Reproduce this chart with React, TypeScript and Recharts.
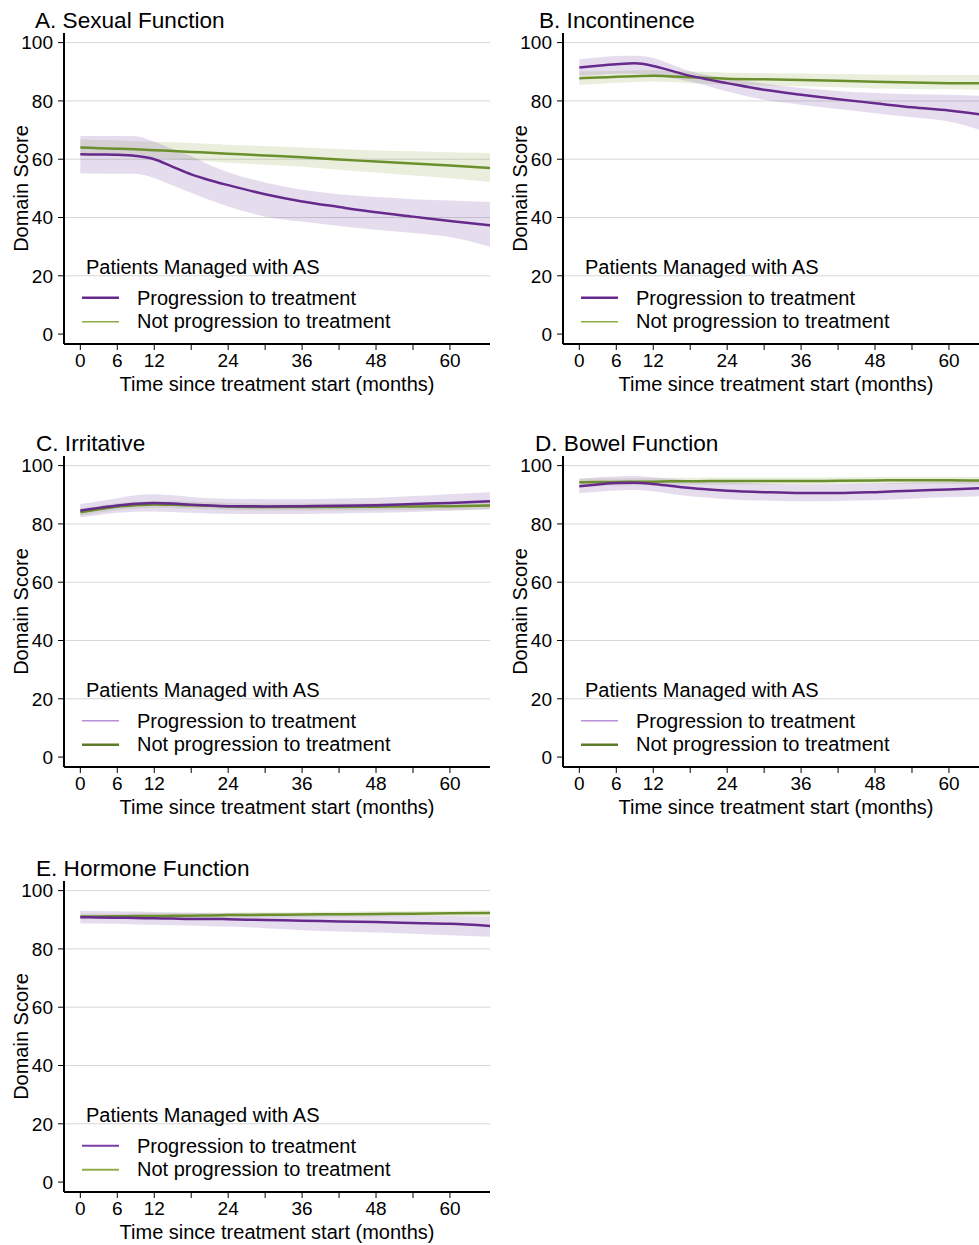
import React from 'react';
import { ComposedChart, Line, Area, XAxis, YAxis, CartesianGrid, Label } from 'recharts';

// Time points (months)
const months = [0, 3, 6, 9, 12, 15, 18, 21, 24, 30, 36, 42, 48, 54, 60, 66.5];
const xTicks = [0, 6, 12, 18, 24, 30, 36, 42, 48, 54, 60];
const xTickLabels = [0, 6, 12, 24, 36, 48, 60];
const yTicks = [0, 20, 40, 60, 80, 100];
const gridValues = [20, 40, 60, 80, 100];

const panelTitles = ['A. Sexual Function', 'B. Incontinence', 'C. Irritative', 'D. Bowel Function', 'E. Hormone Function'];
const legendTitle = 'Patients Managed with AS';
const seriesNames = ['Progression to treatment', 'Not progression to treatment'];

// A. Sexual Function
const sexualProg = [61.7, 61.6, 61.5, 61.1, 60.0, 57.4, 54.8, 52.8, 51.1, 48.0, 45.5, 43.6, 41.8, 40.3, 38.8, 37.3];
const sexualProgHi = [68.0, 68.0, 68.0, 67.9, 66.0, 63.5, 61.0, 58.0, 55.5, 52.0, 49.5, 48.0, 47.0, 46.3, 45.8, 45.3];
const sexualProgLo = [55.2, 55.1, 55.0, 55.0, 53.5, 51.0, 48.5, 46.0, 43.8, 40.3, 38.6, 37.1, 35.8, 34.7, 33.3, 30.0];
const sexualNot = [64.0, 63.8, 63.6, 63.4, 63.1, 62.8, 62.5, 62.2, 61.9, 61.3, 60.7, 59.9, 59.2, 58.5, 57.8, 57.0];
const sexualNotHi = [66.8, 66.6, 66.4, 66.2, 66.0, 65.8, 65.6, 65.3, 65.0, 64.5, 64.0, 63.5, 63.0, 62.7, 62.4, 62.1];
const sexualNotLo = [61.3, 61.1, 60.9, 60.7, 60.4, 60.0, 59.6, 59.2, 58.8, 58.1, 57.4, 56.4, 55.4, 54.4, 53.5, 52.2];

// B. Incontinence
const incontProg = [91.5, 92.1, 92.6, 92.9, 92.0, 90.3, 88.6, 87.3, 86.1, 83.8, 82.1, 80.6, 79.2, 77.8, 76.7, 75.0];
const incontProgHi = [94.3, 94.9, 95.4, 95.5, 94.7, 92.5, 90.2, 88.8, 87.8, 86.0, 84.4, 83.4, 82.7, 82.3, 82.1, 81.7];
const incontProgLo = [88.6, 89.0, 89.3, 89.3, 88.9, 87.8, 86.7, 85.0, 83.2, 80.4, 78.7, 77.2, 75.8, 74.4, 72.9, 69.0];
const incontNot = [87.8, 88.0, 88.3, 88.5, 88.6, 88.4, 88.1, 87.9, 87.6, 87.4, 87.2, 86.9, 86.6, 86.3, 86.1, 86.0];
const incontNotHi = [90.2, 90.2, 90.3, 90.4, 90.5, 90.3, 90.1, 89.9, 89.7, 89.5, 89.4, 89.2, 89.1, 89.0, 88.9, 88.9];
const incontNotLo = [85.5, 85.8, 86.2, 86.5, 86.7, 86.5, 86.1, 85.9, 85.6, 85.3, 85.0, 84.7, 84.3, 84.1, 84.0, 83.8];

// C. Irritative
const irritProg = [84.6, 85.5, 86.3, 86.9, 87.2, 87.0, 86.6, 86.3, 86.1, 86.0, 86.1, 86.2, 86.4, 86.8, 87.2, 87.8];
const irritProgHi = [86.8, 87.8, 88.8, 89.8, 90.2, 89.8, 89.2, 88.8, 88.6, 88.5, 88.5, 88.7, 89.0, 89.6, 90.2, 90.9];
const irritProgLo = [82.3, 83.1, 83.8, 84.2, 84.3, 84.1, 83.8, 83.6, 83.5, 83.4, 83.4, 83.6, 83.8, 84.1, 84.5, 85.0];
const irritNot = [84.0, 85.0, 85.9, 86.4, 86.7, 86.6, 86.4, 86.2, 86.0, 85.8, 85.8, 85.8, 85.9, 86.0, 86.1, 86.3];
const irritNotHi = [85.2, 86.2, 87.1, 87.6, 87.9, 87.8, 87.6, 87.4, 87.2, 87.0, 87.0, 87.0, 87.1, 87.2, 87.4, 87.6];
const irritNotLo = [82.8, 83.8, 84.7, 85.2, 85.5, 85.4, 85.2, 85.0, 84.8, 84.6, 84.6, 84.6, 84.7, 84.8, 84.8, 85.0];

// D. Bowel Function
const bowelProg = [92.9, 93.5, 94.0, 94.1, 93.7, 93.0, 92.3, 91.8, 91.4, 90.9, 90.6, 90.6, 90.9, 91.4, 91.8, 92.4];
const bowelProgHi = [95.5, 96.0, 96.3, 96.4, 96.0, 95.5, 95.0, 94.6, 94.3, 93.8, 93.5, 93.6, 93.8, 94.2, 94.5, 95.0];
const bowelProgLo = [90.5, 91.0, 91.5, 91.6, 91.2, 90.3, 89.5, 89.0, 88.5, 88.0, 87.8, 87.9, 88.1, 88.6, 89.2, 89.6];
const bowelNot = [94.3, 94.4, 94.4, 94.5, 94.5, 94.6, 94.6, 94.7, 94.7, 94.7, 94.7, 94.8, 94.9, 95.0, 95.0, 94.8];
const bowelNotHi = [95.5, 95.6, 95.6, 95.7, 95.7, 95.8, 95.8, 95.9, 95.9, 95.9, 95.9, 96.0, 96.1, 96.2, 96.2, 96.1];
const bowelNotLo = [93.1, 93.2, 93.2, 93.3, 93.3, 93.4, 93.4, 93.5, 93.5, 93.5, 93.5, 93.6, 93.7, 93.8, 93.8, 93.5];

// E. Hormone Function
const hormoneProg = [90.9, 90.8, 90.7, 90.6, 90.5, 90.4, 90.3, 90.3, 90.2, 89.9, 89.7, 89.4, 89.2, 88.9, 88.6, 87.9];
const hormoneProgHi = [93.1, 93.0, 92.9, 92.8, 92.7, 92.6, 92.5, 92.4, 92.3, 92.2, 92.0, 91.8, 91.7, 91.5, 91.3, 91.1];
const hormoneProgLo = [88.8, 88.7, 88.6, 88.4, 88.3, 88.1, 88.0, 87.8, 87.7, 87.1, 86.4, 86.0, 85.6, 85.2, 84.7, 84.2];
const hormoneNot = [91.1, 91.15, 91.2, 91.25, 91.3, 91.35, 91.4, 91.5, 91.6, 91.7, 91.8, 91.9, 92.0, 92.1, 92.2, 92.3];
const hormoneNotHi = [92.0, 92.05, 92.1, 92.15, 92.2, 92.25, 92.3, 92.4, 92.5, 92.6, 92.7, 92.8, 92.9, 93.0, 93.1, 93.3];
const hormoneNotLo = [90.2, 90.25, 90.3, 90.35, 90.4, 90.45, 90.5, 90.6, 90.7, 90.8, 90.9, 91.0, 91.1, 91.2, 91.3, 91.3];

const PURPLE = '#66298c';
const GREEN = '#6b8f2c';
const PURPLE_BAND = '#7b4fa8';
const GREEN_BAND = '#8fb04f';
const FONT = '"Liberation Sans", Arial, Helvetica, sans-serif';

type LegendStyle = { pc: string; pw: number; nc: string; nw: number };
const legendAB: LegendStyle = { pc: '#66298c', pw: 2.5, nc: '#8aae45', nw: 1.5 };
const legendCD: LegendStyle = { pc: '#b98fd6', pw: 1.5, nc: '#5d7a2a', nw: 2.5 };
const legendE: LegendStyle = { pc: '#7b3fa6', pw: 2, nc: '#8fae4a', nw: 2 };

function buildRows(prog: number[], progLo: number[], progHi: number[], not: number[], notLo: number[], notHi: number[]) {
  return months.map((t, i) => ({
    t,
    prog: prog[i],
    progBand: [progLo[i], progHi[i]],
    not: not[i],
    notBand: [notLo[i], notHi[i]],
  }));
}

const panels = [
  { title: panelTitles[0], left: 0, top: 0, titleX: 35, legend: legendAB,
    rows: buildRows(sexualProg, sexualProgLo, sexualProgHi, sexualNot, sexualNotLo, sexualNotHi) },
  { title: panelTitles[1], left: 499, top: 0, titleX: 40, legend: legendAB,
    rows: buildRows(incontProg, incontProgLo, incontProgHi, incontNot, incontNotLo, incontNotHi) },
  { title: panelTitles[2], left: 0, top: 423.4, titleX: 36, legend: legendCD,
    rows: buildRows(irritProg, irritProgLo, irritProgHi, irritNot, irritNotLo, irritNotHi) },
  { title: panelTitles[3], left: 499, top: 423.4, titleX: 36, legend: legendCD,
    rows: buildRows(bowelProg, bowelProgLo, bowelProgHi, bowelNot, bowelNotLo, bowelNotHi) },
  { title: panelTitles[4], left: 0, top: 848.4, titleX: 36, legend: legendE,
    rows: buildRows(hormoneProg, hormoneProgLo, hormoneProgHi, hormoneNot, hormoneNotLo, hormoneNotHi) },
];

const YLabel = (props: any) => {
  const vb = props.viewBox || {};
  const cy = (vb.y || 0) + (vb.height || 0) / 2;
  return (
    <text transform={`translate(28, ${cy}) rotate(-90)`} textAnchor="middle" fontSize={20} fill="#000">
      Domain Score
    </text>
  );
};

function Panel({ p }: { p: any }) {
  const W = 495;
  const H = 400;
  return (
    <div style={{ position: 'absolute', left: p.left, top: p.top, width: W, height: H }}>
      <div style={{ position: 'absolute', left: p.titleX, top: 10, fontSize: 22.6, lineHeight: '22px', whiteSpace: 'nowrap', color: '#000' }}>
        {p.title}
      </div>
      <ComposedChart width={W} height={H} data={p.rows} margin={{ top: 33, right: 5, bottom: 6, left: 0 }}>
        <CartesianGrid vertical={false} horizontalValues={gridValues} stroke="#d6d6d6" strokeWidth={1} />
        <XAxis
          type="number"
          dataKey="t"
          domain={[-2.65, 66.5]}
          ticks={xTicks}
          allowDataOverflow
          tickFormatter={(v: number) => (xTickLabels.includes(v) ? String(v) : '')}
          tick={{ fontSize: 19, fill: '#000' }}
          tickSize={6}
          tickMargin={4}
          height={50}
          axisLine={{ stroke: '#000', strokeWidth: 2 }}
          tickLine={{ stroke: '#000', strokeWidth: 1 }}
        >
          <Label value="Time since treatment start (months)" position="insideBottom" offset={3} fontSize={20} fill="#000" />
        </XAxis>
        <YAxis
          type="number"
          domain={[-3.4, 103.3]}
          ticks={yTicks}
          allowDataOverflow
          width={64}
          tick={{ fontSize: 19, fill: '#000' }}
          tickSize={6}
          tickMargin={5}
          axisLine={{ stroke: '#000', strokeWidth: 2 }}
          tickLine={{ stroke: '#000', strokeWidth: 1 }}
        >
          <Label content={<YLabel />} />
        </YAxis>
        <Area type="monotone" dataKey="notBand" fill={GREEN_BAND} fillOpacity={0.2} stroke="none" isAnimationActive={false} />
        <Area type="monotone" dataKey="progBand" fill={PURPLE_BAND} fillOpacity={0.2} stroke="none" isAnimationActive={false} />
        <Line type="monotone" dataKey="not" stroke={GREEN} strokeWidth={2.5} dot={false} isAnimationActive={false} />
        <Line type="monotone" dataKey="prog" stroke={PURPLE} strokeWidth={2.5} dot={false} isAnimationActive={false} />
      </ComposedChart>
      <svg width={W} height={H} style={{ position: 'absolute', left: 0, top: 0, pointerEvents: 'none' }}>
        <text x={86} y={274} fontSize={20} fill="#000">{legendTitle}</text>
        <line x1={82} x2={119} y1={297.7} y2={297.7} stroke={p.legend.pc} strokeWidth={p.legend.pw} />
        <text x={137} y={305} fontSize={20} fill="#000">{seriesNames[0]}</text>
        <line x1={82} x2={119} y1={321.7} y2={321.7} stroke={p.legend.nc} strokeWidth={p.legend.nw} />
        <text x={137} y={328.3} fontSize={20} fill="#000">{seriesNames[1]}</text>
      </svg>
    </div>
  );
}

export default function App() {
  return (
    <div style={{ position: 'absolute', left: 0, top: 0, width: 979, height: 1245, overflow: 'hidden', background: '#fff', fontFamily: FONT }}>
      {panels.map((p, i) => (
        <Panel key={i} p={p} />
      ))}
    </div>
  );
}
